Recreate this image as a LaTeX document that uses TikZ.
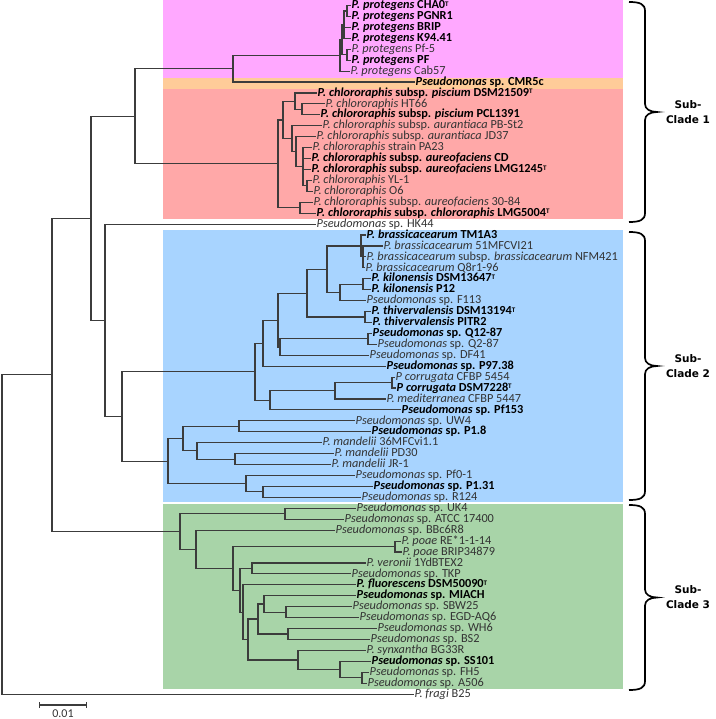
\documentclass[tikz,border=0pt]{standalone}
\usepackage{fontspec}
\setmainfont{Carlito}
\newfontfamily\bracefont{DejaVu Sans}
\usetikzlibrary{arrows.meta}
\definecolor{treecol}{HTML}{3C3C3C}
\definecolor{txtcol}{HTML}{333333}
\definecolor{pinkbg}{HTML}{FFA8FF}
\definecolor{orangebg}{HTML}{FFCC99}
\definecolor{redbg}{HTML}{FFA8A8}
\definecolor{bluebg}{HTML}{A8D4FF}
\definecolor{greenbg}{HTML}{A8D4A8}
\newcommand\supT{\raisebox{2.6pt}{\fontsize{7}{7}\selectfont T}}
\newcommand\kids[2]{\foreach \c in {#2} {\draw[br] (#1) |- (\c);}}
\newcommand\cladebrace[3]{%
 \pgfmathsetmacro\bm{(#1+#2)/2}%
 \draw[brc] (629,#1) .. controls (640,#1) and (645,{#1+2}) .. (645,{#1+9}) -- (645,{\bm-8}) .. controls (645,{\bm-3}) and (650,\bm) .. (657,\bm) .. controls (650,\bm) and (645,{\bm+3}) .. (645,{\bm+8}) -- (645,{#2-9}) .. controls (645,{#2-2}) and (640,#2) .. (629,#2);
 \node[cl] (#3) at (688,\bm) {Sub-\\Clade #3};
}
\begin{document}
\begin{tikzpicture}[x=1pt,y=-1pt,
 br/.style={draw=treecol,line width=1.15pt,line join=miter},
 lf/.style={anchor=west,inner sep=0.5pt,text height=8pt,text depth=1.6pt,font=\fontsize{12.3}{13}\selectfont,text=txtcol},
 lfb/.style={lf,font=\fontsize{12.3}{13}\selectfont\bfseries,text=black},
 brc/.style={draw=black,line width=1.7pt},
 cl/.style={align=center,font=\bracefont\bfseries\fontsize{10.5}{15}\selectfont,inner sep=0pt}]
\path[use as bounding box] (0,0) rectangle (715,719);
% backgrounds
\fill[pinkbg] (163,0) rectangle (623,78);
\fill[orangebg] (163,78) rectangle (623,89);
\fill[redbg] (163,89) rectangle (623,219);
\fill[bluebg] (163,230) rectangle (623,502);
\fill[greenbg] (163,504) rectangle (623,689);
% leaves
\node[lfb] (L0) at (351,5.5) {\textit{P. protegens} CHA0\supT};
\node[lfb] (L1) at (351,16.43) {\textit{P. protegens} PGNR1};
\node[lfb] (L2) at (351,27.36) {\textit{P. protegens} BRIP};
\node[lfb] (L3) at (351,38.29) {\textit{P. protegens} K94.41};
\node[lf] (L4) at (351,49.22) {\textit{P. protegens} Pf-5};
\node[lfb] (L5) at (351,60.15) {\textit{P. protegens} PF};
\node[lf] (L6) at (350,71.08) {\textit{P. protegens} Cab57};
\node[lfb] (L7) at (415,82.01) {\textit{Pseudomonas} sp. CMR5c};
\node[lfb] (L8) at (317,92.94) {\textit{P. chlororaphis} subsp. \textit{piscium} DSM21509\supT};
\node[lf] (L9) at (325,103.87) {\textit{P. chlororaphis} HT66};
\node[lfb] (L10) at (320,114.8) {\textit{P. chlororaphis} subsp. \textit{piscium} PCL1391};
\node[lf] (L11) at (322,125.73) {\textit{P. chlororaphis} subsp. \textit{aurantiaca} PB-St2};
\node[lf] (L12) at (316,136.66) {\textit{P. chlororaphis} subsp. \textit{aurantiaca} JD37};
\node[lf] (L13) at (312,147.59) {\textit{P. chlororaphis} strain PA23};
\node[lfb] (L14) at (311,158.52) {\textit{P. chlororaphis} subsp. \textit{aureofaciens} CD};
\node[lfb] (L15) at (311,169.45) {\textit{P. chlororaphis} subsp. \textit{aureofaciens} LMG1245\supT};
\node[lf] (L16) at (312,180.38) {\textit{P. chlororaphis} YL-1};
\node[lf] (L17) at (313,191.31) {\textit{P. chlororaphis} O6};
\node[lf] (L18) at (313,202.24) {\textit{P. chlororaphis} subsp. \textit{aureofaciens} 30-84};
\node[lfb] (L19) at (316,213.17) {\textit{P. chlororaphis} subsp. \textit{chlororaphis} LMG5004\supT};
\node[lf] (L20) at (316,224.1) {\textit{Pseudomonas} sp. HK44};
\node[lfb] (L21) at (366,235.03) {\textit{P. brassicacearum} TM1A3};
\node[lf] (L22) at (383,245.96) {\textit{P. brassicacearum} 51MFCVI21};
\node[lf] (L23) at (366,256.89) {\textit{P. brassicacearum} subsp. \textit{brassicacearum} NFM421};
\node[lf] (L24) at (365,267.82) {\textit{P. brassicacearum} Q8r1-96};
\node[lfb] (L25) at (371,278.75) {\textit{P. kilonensis} DSM13647\supT};
\node[lfb] (L26) at (371,289.68) {\textit{P. kilonensis} P12};
\node[lf] (L27) at (366,300.61) {\textit{Pseudomonas} sp. F113};
\node[lfb] (L28) at (371,311.54) {\textit{P. thivervalensis} DSM13194\supT};
\node[lfb] (L29) at (372,322.47) {\textit{P. thivervalensis} PITR2};
\node[lfb] (L30) at (372,333.4) {\textit{Pseudomonas} sp. Q12-87};
\node[lf] (L31) at (377,344.33) {\textit{Pseudomonas} sp. Q2-87};
\node[lf] (L32) at (369,355.26) {\textit{Pseudomonas} sp. DF41};
\node[lfb] (L33) at (386,366.19) {\textit{Pseudomonas} sp. P97.38};
\node[lf] (L34) at (395,377.12) {\textit{P corrugata} CFBP 5454};
\node[lfb] (L35) at (396,388.05) {\textit{P corrugata} DSM7228\supT};
\node[lf] (L36) at (386,398.98) {\textit{P. mediterranea} CFBP 5447};
\node[lfb] (L37) at (401,409.91) {\textit{Pseudomonas} sp. Pf153};
\node[lf] (L38) at (355,420.84) {\textit{Pseudomonas} sp. UW4};
\node[lfb] (L39) at (371,431.77) {\textit{Pseudomonas} sp. P1.8};
\node[lf] (L40) at (322,442.7) {\textit{P. mandelii} 36MFCvi1.1};
\node[lf] (L41) at (334,453.63) {\textit{P. mandelii} PD30};
\node[lf] (L42) at (331,464.56) {\textit{P. mandelii} JR-1};
\node[lf] (L43) at (355,475.49) {\textit{Pseudomonas} sp. Pf0-1};
\node[lfb] (L44) at (373,486.42) {\textit{Pseudomonas} sp. P1.31};
\node[lf] (L45) at (361,497.35) {\textit{Pseudomonas} sp. R124};
\node[lf] (L46) at (356,508.28) {\textit{Pseudomonas} sp. UK4};
\node[lf] (L47) at (344,519.21) {\textit{Pseudomonas} sp. ATCC 17400};
\node[lf] (L48) at (335,530.14) {\textit{Pseudomonas} sp. BBc6R8};
\node[lf] (L49) at (401,541.07) {\textit{P. poae} RE*1-1-14};
\node[lf] (L50) at (402,552.0) {\textit{P. poae} BRIP34879};
\node[lf] (L51) at (366,562.93) {\textit{P. veronii} 1YdBTEX2};
\node[lf] (L52) at (351,573.86) {\textit{Pseudomonas} sp. TKP};
\node[lfb] (L53) at (356,584.79) {\textit{P. fluorescens} DSM50090\supT};
\node[lfb] (L54) at (356,595.72) {\textit{Pseudomonas} sp. MIACH};
\node[lf] (L55) at (352,606.65) {\textit{Pseudomonas} sp. SBW25};
\node[lf] (L56) at (359,617.58) {\textit{Pseudomonas} sp. EGD-AQ6};
\node[lf] (L57) at (377,628.51) {\textit{Pseudomonas} sp. WH6};
\node[lf] (L58) at (370,639.44) {\textit{Pseudomonas} sp. BS2};
\node[lf] (L59) at (366,650.37) {\textit{P. synxantha} BG33R};
\node[lfb] (L60) at (371,661.3) {\textit{Pseudomonas} sp. SS101};
\node[lf] (L61) at (369,672.23) {\textit{Pseudomonas} sp. FH5};
\node[lf] (L62) at (367,683.16) {\textit{Pseudomonas} sp. A506};
\node[lf] (L63) at (414,694.09) {\textit{P. fragi} B25};
% internal nodes
\coordinate (T) at (347,10.97);
\coordinate (R) at (344,24.63);
\coordinate (S) at (347,54.69);
\coordinate (Q) at (342,39.66);
\coordinate (P0) at (340,55.37);
\coordinate (N) at (233,68.69);
\coordinate (W) at (302,109.34);
\coordinate (V) at (295,101.14);
\coordinate (Z2) at (307,185.85);
\coordinate (Z) at (303,166.72);
\coordinate (Y2) at (296,151.69);
\coordinate (Y) at (292,138.71);
\coordinate (X) at (283,119.93);
\coordinate (AA) at (300,207.71);
\coordinate (U) at (278,163.82);
\coordinate (C) at (135,116.26);
\coordinate (BR2) at (363,256.89);
\coordinate (BR1) at (361,245.96);
\coordinate (KL) at (363,284.22);
\coordinate (K1) at (340,292.41);
\coordinate (G3) at (327,269.19);
\coordinate (TH) at (365,317.0);
\coordinate (G2) at (307,293.1);
\coordinate (Q2) at (368,338.87);
\coordinate (Q1) at (280,347.07);
\coordinate (G1) at (278,320.08);
\coordinate (FF) at (263,343.14);
\coordinate (CO) at (392,382.59);
\coordinate (CM) at (335,390.79);
\coordinate (CC) at (270,400.35);
\coordinate (F) at (255,371.75);
\coordinate (I) at (239,426.3);
\coordinate (K) at (235,459.1);
\coordinate (J) at (197,450.9);
\coordinate (H) at (183,438.6);
\coordinate (M) at (263,491.89);
\coordinate (Lg) at (246,483.69);
\coordinate (G) at (168,461.15);
\coordinate (E) at (122,416.45);
\coordinate (D) at (105,320.28);
\coordinate (B) at (91,218.27);
\coordinate (UKA) at (285,513.75);
\coordinate (PO) at (395,546.54);
\coordinate (VT) at (252,568.4);
\coordinate (GI) at (286,612.12);
\coordinate (GH) at (264,603.92);
\coordinate (GJ) at (288,633.98);
\coordinate (GG) at (258,618.95);
\coordinate (GM) at (362,677.7);
\coordinate (GL) at (340,669.5);
\coordinate (GK) at (298,659.94);
\coordinate (GF) at (248,639.45);
\coordinate (GE) at (243,612.12);
\coordinate (GD) at (240,590.26);
\coordinate (GC) at (233,568.4);
\coordinate (GB) at (196,549.27);
\coordinate (GA) at (180,531.51);
\coordinate (A) at (52,374.89);
\coordinate (Root) at (2,534.5);
% branches
\kids{T}{L0.west,L1.west}
\kids{R}{T,L2.west,L3.west}
\kids{S}{L4.west,L5.west}
\kids{Q}{R,S}
\kids{P0}{Q,L6.west}
\kids{N}{P0,L7.west}
\kids{W}{L9.west,L10.west}
\kids{V}{L8.west,W}
\kids{Z2}{L16.west,L17.west}
\kids{Z}{L13.west,L14.west,L15.west,Z2}
\kids{Y2}{L12.west,Z}
\kids{Y}{L11.west,Y2}
\kids{X}{V,Y}
\kids{AA}{L18.west,L19.west}
\kids{U}{X,AA}
\kids{C}{N,U}
\kids{BR2}{L22.west,L23.west,L24.west}
\kids{BR1}{L21.west,BR2}
\kids{KL}{L25.west,L26.west}
\kids{K1}{KL,L27.west}
\kids{G3}{BR1,K1}
\kids{TH}{L28.west,L29.west}
\kids{G2}{G3,TH}
\kids{Q2}{L30.west,L31.west}
\kids{Q1}{Q2,L32.west}
\kids{G1}{G2,Q1}
\kids{FF}{G1,L33.west}
\kids{CO}{L34.west,L35.west}
\kids{CM}{CO,L36.west}
\kids{CC}{CM,L37.west}
\kids{F}{FF,CC}
\kids{I}{L38.west,L39.west}
\kids{K}{L41.west,L42.west}
\kids{J}{L40.west,K}
\kids{H}{I,J}
\kids{M}{L44.west,L45.west}
\kids{Lg}{L43.west,M}
\kids{G}{H,Lg}
\kids{E}{F,G}
\kids{D}{L20.west,E}
\kids{B}{C,D}
\kids{UKA}{L46.west,L47.west}
\kids{PO}{L49.west,L50.west}
\kids{VT}{L51.west,L52.west}
\kids{GI}{L55.west,L56.west}
\kids{GH}{L54.west,GI}
\kids{GJ}{L57.west,L58.west}
\kids{GG}{GH,GJ}
\kids{GM}{L61.west,L62.west}
\kids{GL}{L60.west,GM}
\kids{GK}{L59.west,GL}
\kids{GF}{GG,GK}
\kids{GE}{L53.west,GF}
\kids{GD}{VT,GE}
\kids{GC}{PO,GD}
\kids{GB}{L48.west,GC}
\kids{GA}{UKA,GB}
\kids{A}{B,GA}
\kids{Root}{A,L63.west}
% clade braces
\cladebrace{2}{222}{1}
\cladebrace{232}{500}{2}
\cladebrace{505}{690}{3}
% scale bar
\coordinate (sb1) at (39,705);
\coordinate (sb2) at (87,705);
\draw[treecol,line width=1.15pt,{Bar[width=6pt]}-{Bar[width=6pt]}] (sb1) -- (sb2);
\node[font=\fontsize{12}{12}\selectfont,text=txtcol,inner sep=0pt] (sblab) at (63,713.5) {0.01};
\end{tikzpicture}
\end{document}
